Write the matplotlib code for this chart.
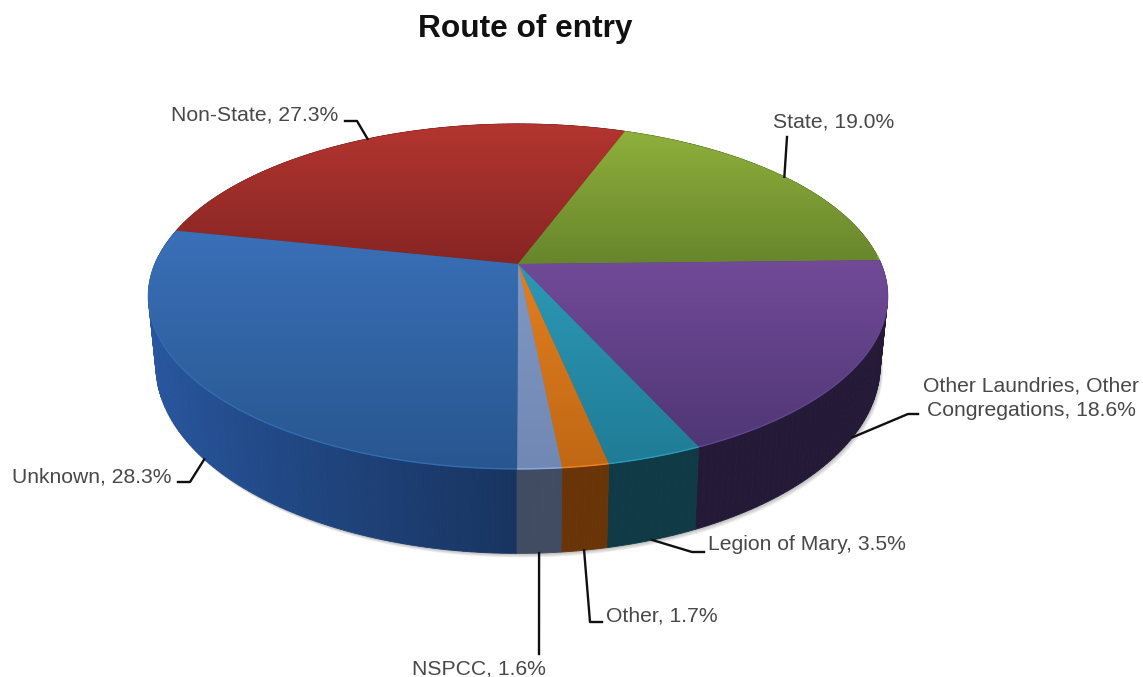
import numpy as np
import matplotlib
matplotlib.use('Agg')
import matplotlib.pyplot as plt
from matplotlib.colors import LinearSegmentedColormap
from matplotlib.patches import Polygon

# --- DATA ---

categories = ['Non-State', 'State', 'Other Laundries, Other\nCongregations', 'Legion of Mary',
              'Other', 'NSPCC', 'Unknown']
shares = [27.3, 19.0, 18.6, 3.5, 1.7, 1.6, 28.3]

# --- STYLE ---

top_light = ['#b43530', '#8fb03c', '#724a98', '#2c98b6', '#e27e20', '#7f97c4', '#3a70b8']
top_dark = ['#862523', '#67852c', '#4f3775', '#207c96', '#c06815', '#7288b4', '#28568f']
side_base = ['#5c1a18', '#46591e', '#241a38', '#0f3a46', '#693508', '#414b62', '#183460']

# top disc and bottom disc of the perspective cylinder, in pixels
cx = 518
top_disc = dict(y=264, r=363, s=166.4, k=0.188)
low_disc = dict(y=330, r=355.7, s=181.4, k=0.188)
start_angle = 168

# elbow, leader end, text position and alignment of each label
leaders = [
    ((357, 121), (345, 121), (338, 115), 'right'),
    ((787, 137), (787, 137), (773, 122), 'left'),
    ((908, 414), (918, 414), (1031, 398), 'center'),
    ((692, 552), (704, 552), (708, 545), 'left'),
    ((590, 622), (602, 622), (606, 616), 'left'),
    ((539, 654), (539, 654), (479, 669), 'center'),
    ((190, 482), (178, 482), (172, 477), 'right'),
]


def project(disc, t):
    """Perspective view of a circle, t is the angle on the real circle in radians."""
    d = 1 + disc['k'] * np.sin(t)
    return cx + disc['r'] * np.cos(t) / d, disc['y'] - disc['s'] * np.sin(t) / d


def mix(colour, factor):
    rgb = np.array(matplotlib.colors.to_rgb(colour)) * factor
    return tuple(np.clip(rgb, 0, 1))


fig = plt.figure(figsize=(11.43, 6.77), dpi=100)
ax = fig.add_axes([0, 0, 1, 1])

sweeps = np.array(shares) / sum(shares) * 2 * np.pi
ends = np.radians(start_angle) - np.cumsum(sweeps)
starts = ends + sweeps

# --- SHADOW ---

t_all = np.linspace(0, 2 * np.pi, 361)
lx, ly = project(low_disc, t_all)
for i in range(6, 0, -1):
    ax.add_patch(Polygon(np.column_stack([lx + i * 0.5, ly + i * 0.7]), closed=True,
                         fc='#303030', ec='none', alpha=0.06, zorder=1))

# --- SIDE WALL ---

quads = []
for i in range(len(shares)):
    ts = np.linspace(starts[i], ends[i], max(int(np.degrees(sweeps[i])), 2) + 1)
    for a, b in zip(ts[:-1], ts[1:]):
        quads.append((i, a, b))

# back of the wall first, the front last
quads.sort(key=lambda q: -np.sin((q[1] + q[2]) / 2))
for i, a, b in quads:
    xa, ya = project(top_disc, a)
    xb, yb = project(top_disc, b)
    xc, yc = project(low_disc, b)
    xd, yd = project(low_disc, a)
    factor = 1 + 0.7 * max(0, -np.cos((a + b) / 2))
    col = mix(side_base[i], factor)
    ax.add_patch(Polygon([(xa, ya), (xb, yb), (xc, yc), (xd, yd)], closed=True,
                         fc=col, ec=col, lw=0.6, zorder=2))

# --- TOP FACE ---

for i in range(len(shares)):
    ts = np.linspace(starts[i], ends[i], 200)
    xs, ys = project(top_disc, ts)
    verts = [(cx, top_disc['y'])] + list(zip(xs, ys))
    poly = Polygon(verts, closed=True, fc=top_dark[i], ec=top_dark[i], lw=0.5, zorder=3)
    ax.add_patch(poly)
    cmap = LinearSegmentedColormap.from_list('g', [top_light[i], top_dark[i]])
    grad = np.linspace(0, 1, 256).reshape(-1, 1)
    x_all = [v[0] for v in verts]
    y_all = [v[1] for v in verts]
    im = ax.imshow(grad, cmap=cmap, extent=(min(x_all), max(x_all), max(y_all), min(y_all)),
                   aspect='auto', zorder=3.1, interpolation='bilinear')
    im.set_clip_path(poly)
    # thin lighter edge along the front rim
    front = np.sin(ts) < 0.05
    if front.any():
        ax.plot(xs[front], ys[front], color=mix(top_dark[i], 1.25), lw=1.0, zorder=4,
                solid_capstyle='butt')

ax.set_xlim(0, 1143)
ax.set_ylim(677, 0)
ax.axis('off')

# --- LABELS ---

for i, name in enumerate(categories):
    mid = (starts[i] + ends[i]) / 2
    disc = top_disc if np.sin(mid) > 0 else low_disc
    x0, y0 = project(disc, mid)
    elbow, end, pos, ha = leaders[i]
    ax.plot([x0, elbow[0], end[0]], [y0, elbow[1], end[1]], color='#101010', lw=1.7,
            zorder=5, solid_joinstyle='round')
    ax.text(pos[0], pos[1], f'{name}, {shares[i]:.1f}%', ha=ha, va='center', fontsize=15.2,
            family='Liberation Sans', color='#484848', linespacing=1.38,
            multialignment='center', zorder=6)

ax.text(525, 29, 'Route of entry', ha='center', va='center', fontsize=22.8,
        fontweight='bold', family='Liberation Sans', color='#111111')

fig.savefig('out.png', dpi=100, facecolor='white')
